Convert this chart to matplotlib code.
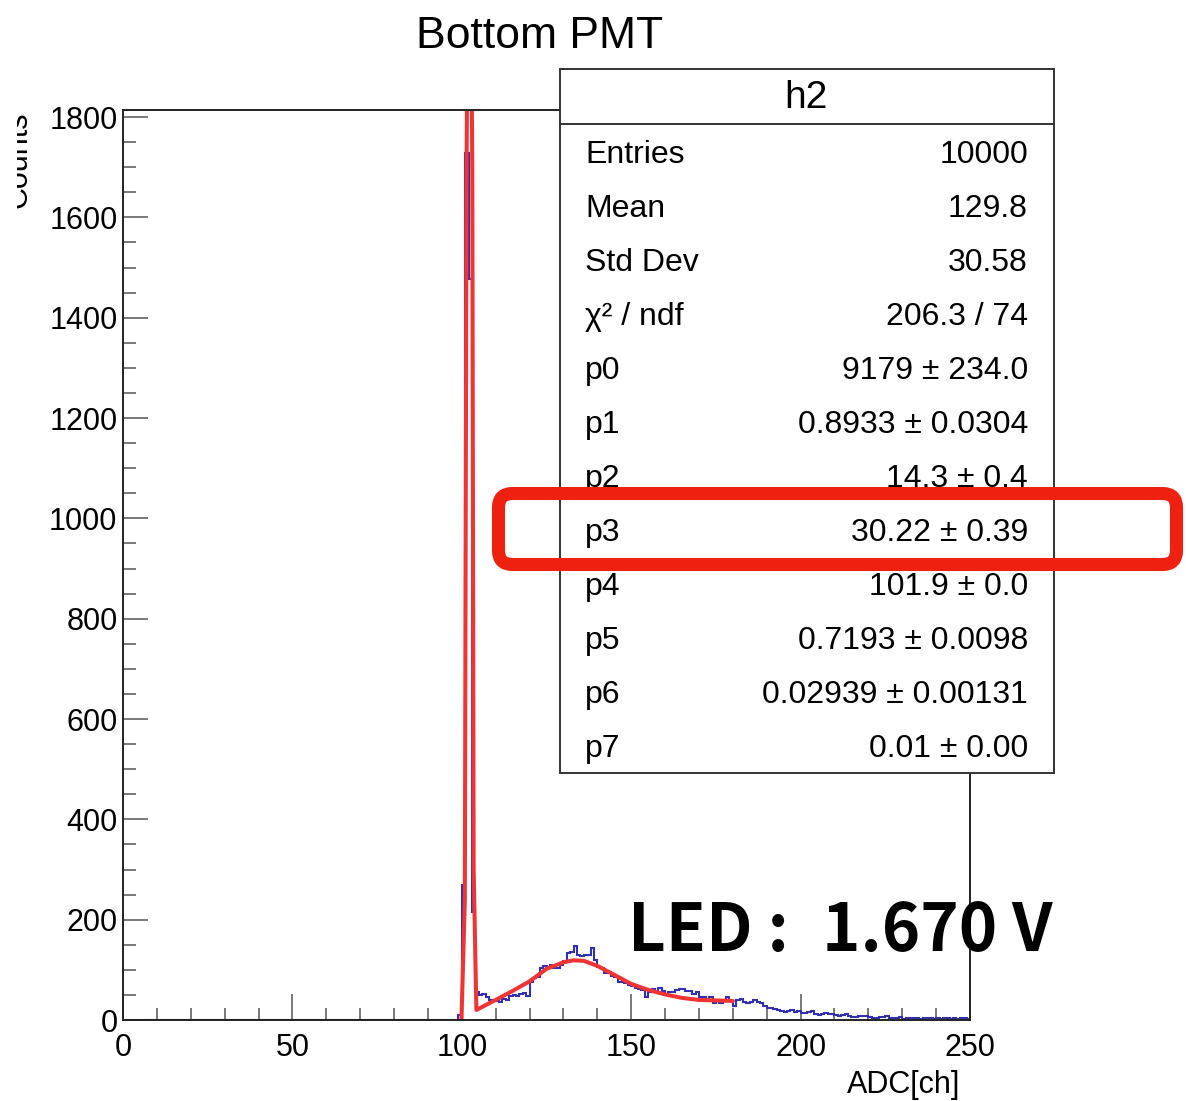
import matplotlib
matplotlib.use('Agg')
import matplotlib.pyplot as plt
import numpy as np
from matplotlib.patches import Rectangle, FancyBboxPatch
from matplotlib.transforms import Bbox
from matplotlib.ticker import MultipleLocator

plt.rcParams['font.family'] = ['Liberation Sans', 'DejaVu Sans']

# ---------------- data ----------------
hist_first_bin = 99          # ADC bin where non-zero content starts (bins of width 1, 0..250)
hist_counts = [
    10, 270, 1728, 1477, 215, 55, 50, 52, 45, 40,            # 99-108
    38, 37, 36, 42, 40, 48, 50, 47, 52, 53,                   # 109-118
    48, 76, 83, 86, 104, 107, 106, 110, 104, 103,             # 119-128
    110, 117, 133, 135, 147, 130, 128, 130, 129, 143,         # 129-138
    120, 106, 104, 93, 96, 88, 85, 76, 75, 73,                # 139-148
    70, 67, 64, 62, 60, 46, 55, 61, 56, 63,                   # 149-158
    58, 52, 56, 56, 60, 62, 62, 58, 57, 52,                   # 159-168
    55, 46, 45, 40, 46, 34, 38, 34, 40, 46,                   # 169-178
    38, 27, 40, 42, 35, 33, 36, 40, 36, 33,                   # 179-188
    28, 24, 24, 22, 20, 18, 15, 18, 19, 16,                   # 189-198
    17, 14, 13, 16, 17, 12, 10, 12, 13, 12,                   # 199-208
    12, 10, 8, 10, 11, 7, 5, 6, 7, 7,                         # 209-218
    7, 5, 4, 4, 5, 6, 7, 4, 3, 4,                             # 219-228
    5, 2, 3, 4, 3, 3, 2, 3, 4, 3,                             # 229-238
    2, 3, 2, 3, 4, 2, 3, 2, 3, 4, 2,                          # 239-249
]

fit_adc = [99.9, 100.9, 101.4, 102.2, 103.1, 103.5, 104.3, 110, 115, 120, 125,
           130, 133, 136, 140, 145, 150, 155, 160, 165, 170, 175, 180]
fit_counts = [0, 240, 1700, 2500, 1700, 300, 20, 40, 58, 77, 102,
              115, 119, 118, 108, 90, 72, 60, 51, 44, 40, 39, 38]

title = 'Bottom PMT'
x_title = 'ADC[ch]'
y_title = 'Counts'
stat_header = 'h2'
stat_labels = ['Entries', 'Mean', 'Std Dev', 'χ² / ndf', 'p0', 'p1', 'p2', 'p3',
               'p4', 'p5', 'p6', 'p7']
stat_values = ['10000', '129.8', '30.58', '206.3 / 74', '9179 ± 234.0',
               '0.8933 ± 0.0304', '14.3 ± 0.4', '30.22 ± 0.39', '101.9 ± 0.0',
               '0.7193 ± 0.0098', '0.02939 ± 0.00131', '0.01 ± 0.00']
led_label = 'LED :'
led_value = '1.670 V'

# ---------------- figure ----------------
W, H = 1186, 1101
fig = plt.figure(figsize=(W / 100, H / 100), dpi=100)
fig.patch.set_facecolor('white')

ax = fig.add_axes([123 / W, 81 / H, 847 / W, 910 / H])
ax.set_xlim(0, 250)
ax.set_ylim(0, 1814)

counts = np.zeros(250)
counts[hist_first_bin:hist_first_bin + len(hist_counts)] = hist_counts
edges = np.arange(0, 251)
ax.stairs(counts, edges, color='#3030b0', lw=1.5, zorder=3)
ax.plot(fit_adc, fit_counts, color='#f03434', lw=2.9, zorder=4,
        solid_joinstyle='round', solid_capstyle='round')

ax.xaxis.set_major_locator(MultipleLocator(50))
ax.xaxis.set_minor_locator(MultipleLocator(10))
ax.yaxis.set_major_locator(MultipleLocator(200))
ax.yaxis.set_minor_locator(MultipleLocator(50))
ax.tick_params(axis='x', which='major', direction='in', length=19, width=1.1,
               color='#555555', labelsize=22, pad=9, top=False)
ax.tick_params(axis='x', which='minor', direction='in', length=9, width=1.1,
               color='#555555', top=False)
ax.tick_params(axis='y', which='major', direction='in', length=18, width=1.1,
               color='#555555', labelsize=22, pad=4, right=False)
ax.tick_params(axis='y', which='minor', direction='in', length=9, width=1.1,
               color='#555555', right=False)
for sp in ax.spines.values():
    sp.set_linewidth(1.4)
    sp.set_color('#222222')
    sp.set_zorder(5)

# ---------------- overlay (pixel coordinates) ----------------
ov = fig.add_axes([0, 0, 1, 1], zorder=10)
ov.set_xlim(0, W)
ov.set_ylim(H, 0)
ov.axis('off')
ov.patch.set_alpha(0)

ov.text(540, 36, title, ha='center', va='center', fontsize=32)
ov.text(960, 1093, x_title, ha='right', va='baseline', fontsize=22)
yl = ov.text(34, 112, y_title, ha='right', va='top', rotation=90, fontsize=22)
yl.set_clip_box(Bbox.from_extents(17, 0, W, H))
yl.set_clip_on(True)

# stats box
ov.add_patch(Rectangle((560, 69), 494, 704, fc='white', ec='#333333', lw=1.4,
                       zorder=2))
ov.plot([560, 1054], [124, 124], color='#333333', lw=1.4, zorder=3)
ov.text(806, 98, stat_header, ha='center', va='center', fontsize=28, zorder=4)
for i, (lab, val) in enumerate(zip(stat_labels, stat_values)):
    yb = 152 + 54.0 * i + 11
    ov.text(585, yb, lab, ha='left', va='baseline', fontsize=23, zorder=4)
    ov.text(1028, yb, val, ha='right', va='baseline', fontsize=23, zorder=4)

# red hand-drawn highlight
ov.add_patch(FancyBboxPatch((498.5, 493.5), 678, 71,
                            boxstyle='round,pad=0,rounding_size=14',
                            ec='#ee2010', fc='none', lw=9.4, zorder=6,
                            clip_on=False))

led_font = dict(fontsize=47, fontweight='bold',
                family=['Noto Sans CJK JP', 'DejaVu Sans'], zorder=7)
ov.text(628, 951, led_label, ha='left', va='baseline', **led_font)
ov.text(1052, 951, led_value, ha='right', va='baseline', **led_font)

fig.savefig('out.png', dpi=100, facecolor='white')
